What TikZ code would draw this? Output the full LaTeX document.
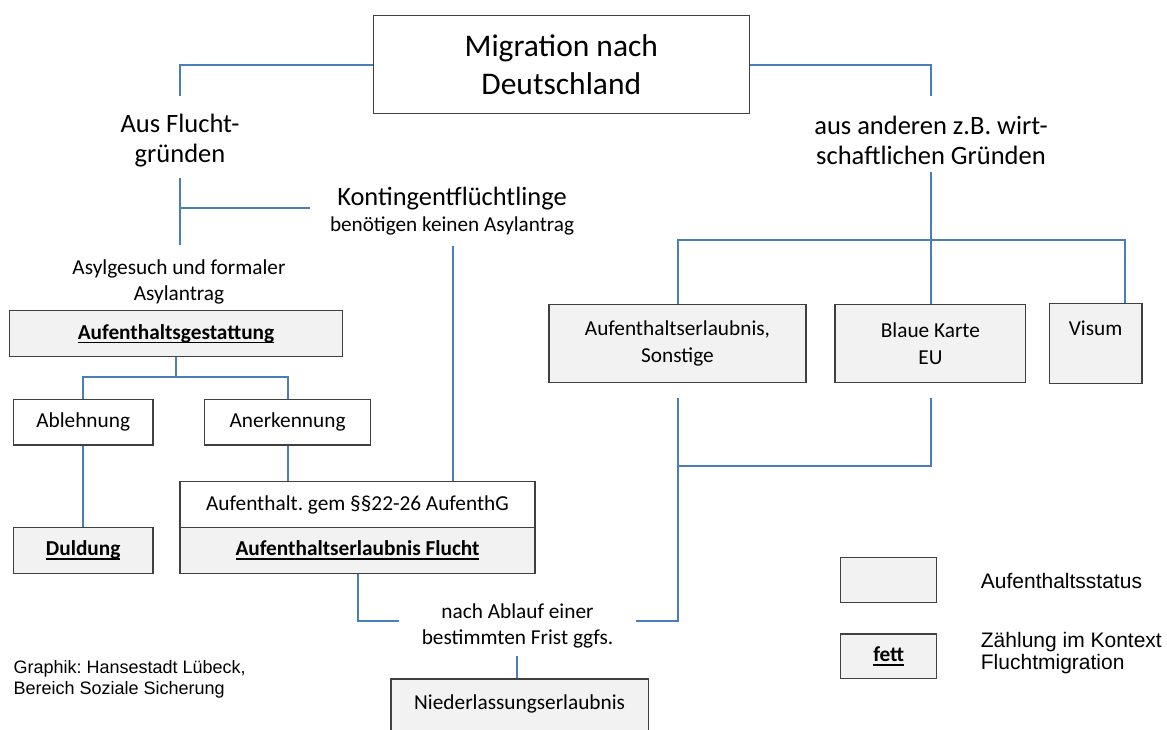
\documentclass[tikz,border=0pt]{standalone}
\usepackage{fontspec}
\setmainfont{Carlito}
\newfontfamily\arialf{Liberation Sans}
\frenchspacing
\definecolor{lineblue}{HTML}{4A7EBB}
\definecolor{boxgray}{HTML}{F2F2F2}
\definecolor{boxline}{HTML}{404040}
\newcommand{\ulb}[1]{\setbox0\hbox{\bfseries #1}\rlap{\rule[-4pt]{\wd0}{1.4pt}}\box0}
\begin{document}
\begin{tikzpicture}[x=1pt,y=-1pt,
  conn/.style={draw=lineblue, line width=2pt},
  bx/.style={draw=boxline, line width=1.2pt, rectangle, inner sep=0pt, align=center,
             font=\fontsize{21.3}{26.7}\selectfont},
  stat/.style={bx, fill=boxgray},
  plainbx/.style={bx, fill=white},
  txt/.style={inner sep=0pt, align=center, font=\fontsize{21.3}{26.7}\selectfont},
  bigtxt/.style={inner sep=0pt, align=center, font=\fontsize{26.5}{30.5}\selectfont},
  legtxt/.style={inner sep=0pt, align=left, anchor=west, font=\arialf\fontsize{21}{21.6}\selectfont}
]
\useasboundingbox (0,0) rectangle (1167,729);
\clip (0,0) rectangle (1167,729);

% boxes
\node[plainbx, minimum width=376, minimum height=97.7, font=\fontsize{31.5}{38}\selectfont] (title) at (561.3,64.5) {Migration nach\\Deutschland};
\node[stat, minimum width=332.9, minimum height=46] (gest) at (176,333.7) {\ulb{Aufenthaltsgestattung}};
\node[plainbx, minimum width=139.6, minimum height=45.7] (abl) at (83.2,422.15) {Ablehnung};
\node[plainbx, minimum width=165.8, minimum height=45.7] (anerk) at (287.6,422.15) {Anerkennung};
\node[plainbx, minimum width=355, minimum height=45.6] (aufgem) at (357.5,504.5) {Aufenthalt. gem §§22-26 AufenthG};
\node[stat, minimum width=355, minimum height=45.6] (aufflucht) at (357.5,550.3) {\ulb{Aufenthaltserlaubnis Flucht}};
\node[stat, minimum width=139.6, minimum height=45.6] (duld) at (83.2,550.3) {\ulb{Duldung}};
\node[stat, minimum width=257, minimum height=77.6] (sonst) at (677.5,343.5) {Aufenthaltserlaubnis,\\Sonstige};
\node[stat, minimum width=190.7, minimum height=78.4] (blau) at (930.4,343.5) {Blaue Karte\\EU};
\node[stat, minimum width=92.7, text height=32pt, text depth=48pt, anchor=north] (visum) at (1095.65,302.7) {Visum};
\node[stat, minimum width=257.3, text height=30.2pt, text depth=50pt, anchor=north] (nied) at (519.65,678.3) {Niederlassungserlaubnis};
\node[stat, minimum width=96, minimum height=45.4] (leg1) at (888.7,580) {};
\node[stat, minimum width=96, minimum height=44.3] (leg2) at (888.7,656.15) {\ulb{fett}};

% free texts
\node[bigtxt] (aus) at (180,140.5) {Aus Flucht-\\gründen};
\node[bigtxt] (wirt) at (931,140.5) {aus anderen z.B. wirt-\\schaftlichen Gründen};
\node[inner sep=0pt, font=\fontsize{26.4}{30}\selectfont] (kont) at (452,199) {Kontingentflüchtlinge};
\node[inner sep=0pt, font=\fontsize{21.2}{25}\selectfont] (kontsub) at (452,226) {benötigen keinen Asylantrag};
\node[txt] (asyl) at (179,282) {Asylgesuch und formaler\\Asylantrag};
\node[txt, font=\fontsize{21.3}{25.6}\selectfont] (nach) at (517.5,626) {nach Ablauf einer\\bestimmten Frist ggfs.};
\node[inner sep=0pt, align=left, anchor=west, font=\arialf\fontsize{18}{21}\selectfont] (credit) at (13.4,679) {Graphik: Hansestadt Lübeck,\\Bereich Soziale Sicherung};
\node[legtxt] (leg1t) at (980.7,581) {Aufenthaltsstatus};
\node[legtxt] (leg2t) at (980.7,653) {Zählung im Kontext\\Fluchtmigration};

% junction coordinates
\coordinate (cAus) at (180,96);
\coordinate (cWirt) at (931,96);
\coordinate (cAusB) at (180,178);
\coordinate (cAsyl) at (180,245);
\coordinate (cAusK) at (180,207.7);
\coordinate (cKontW) at (310,207.7);
\coordinate (cKontS) at (453,246);
\coordinate (cWirtB) at (931,171.7);
\coordinate (cWirtJ) at (931,239.5);
\coordinate (cRight) at (1125.3,239.5);
\coordinate (cGJ) at (176,377.3);
\coordinate (cNachW) at (399.3,621);
\coordinate (cSonstB) at (677.5,398.3);
\coordinate (cNachE) at (636,621);
\coordinate (cBlauB) at (931,398.3);
\coordinate (cMid) at (677.5,466);
\coordinate (cNachS) at (517.3,655.7);

% connectors
\draw[conn] (title.west) -| (cAus);
\draw[conn] (title.east) -| (cWirt);
\draw[conn] (cAusB) -- (cAsyl);
\draw[conn] (cAusK) -- (cKontW);
\draw[conn] (cKontS) -- (cKontS |- aufgem.north);
\draw[conn] (cWirtB) -- (cWirtJ);
\draw[conn] (sonst.north) |- (cRight) -- (cRight |- visum.north);
\draw[conn] (blau.north -| cWirtJ) -- (cWirtJ);
\draw[conn] (gest.south) -- (cGJ);
\draw[conn] (abl.north) |- (cGJ) -| (anerk.north);
\draw[conn] (abl.south) -- (duld.north);
\draw[conn] (anerk.south) -- (anerk.south |- aufgem.north);
\draw[conn] (aufflucht.south) |- (cNachW);
\draw[conn] (cSonstB) |- (cNachE);
\draw[conn] (cBlauB) |- (cMid);
\draw[conn] (cNachS) -- (cNachS |- nied.north);
\end{tikzpicture}
\end{document}
